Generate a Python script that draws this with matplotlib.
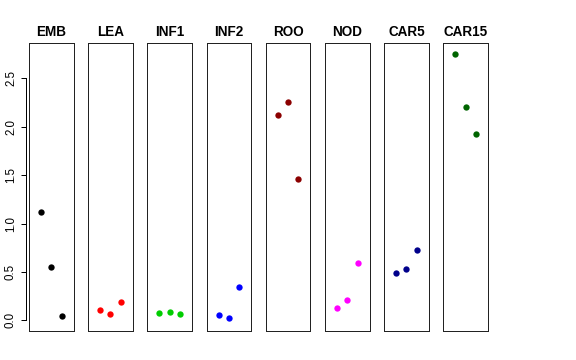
import numpy as np
import matplotlib
matplotlib.use("Agg")
import matplotlib.pyplot as plt

plt.rcParams['font.family'] = ['Liberation Sans', 'DejaVu Sans']

# tissues and their three replicate values
tissues = ['EMB', 'LEA', 'INF1', 'INF2', 'ROO', 'NOD', 'CAR5', 'CAR15']
colors = ['black', 'red', '#00CD00', 'blue', '#8B0000', 'magenta', '#00008B', '#006400']
emb = [1.12, 0.555, 0.045]
lea = [0.104, 0.063, 0.193]
inf1 = [0.073, 0.09, 0.066]
inf2 = [0.056, 0.028, 0.348]
roo = [2.12, 2.26, 1.46]
nod = [0.125, 0.208, 0.59]
car5 = [0.486, 0.528, 0.727]
car15 = [2.755, 2.205, 1.93]
values = [emb, lea, inf1, inf2, roo, nod, car5, car15]
reps = [1, 2, 3]
yticks = [0.0, 0.5, 1.0, 1.5, 2.0, 2.5]

W, H = 576, 360
fig = plt.figure(figsize=(W / 72, H / 72), dpi=72)

ylim = (-0.11, 2.866)
top, bottom = 43, 331
pw = 44.5
lefts = [29 + i * 59.2 for i in range(8)]

for name, col, vals, left in zip(tissues, colors, values, lefts):
    ax = fig.add_axes([left / W, 1 - bottom / H, pw / W, (bottom - top) / H])
    ax.scatter(reps, vals, s=40, color=col, zorder=3, linewidths=0)
    ax.set_xlim(-0.16, 4.16)
    ax.set_ylim(*ylim)
    ax.set_xticks([])
    ax.set_yticks([])
    for sp in ax.spines.values():
        sp.set_linewidth(1.0)
        sp.set_color('#222222')
    ax.set_title(name, fontsize=13.5, fontweight='bold', pad=7)

# shared y axis, drawn slightly outside the first panel like R
yax = fig.add_axes([26 / W, 1 - bottom / H, 1 / W, (bottom - top) / H])
yax.set_ylim(*ylim)
yax.set_xticks([])
yax.patch.set_visible(False)
for s in ['top', 'right', 'bottom']:
    yax.spines[s].set_visible(False)
yax.spines['left'].set_bounds(0, 2.5)
yax.spines['left'].set_linewidth(1.0)
yax.set_yticks(yticks)
yax.set_yticklabels([f'{t:.1f}' for t in yticks], rotation=90, va='center', fontsize=11.5)
yax.tick_params(axis='y', length=5, width=1.0, pad=4)

fig.savefig('out.png', dpi=72)
